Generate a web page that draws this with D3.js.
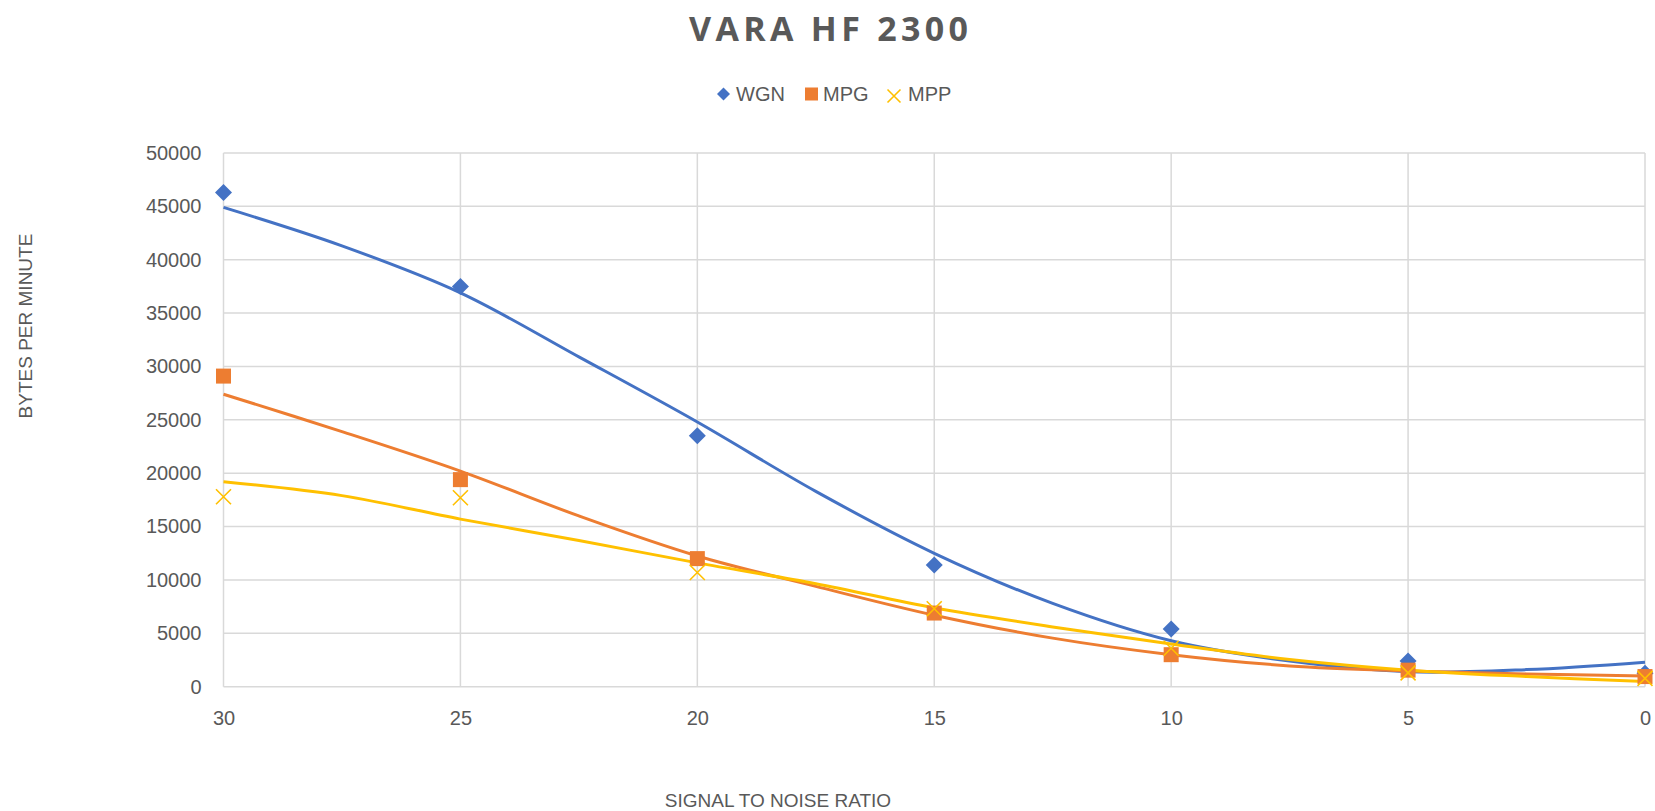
<!DOCTYPE html>
<html>
<head>
<meta charset="utf-8">
<script src="https://cdn.jsdelivr.net/npm/d3@7"></script>
<style>
  body { margin: 0; background: #fff; }
  text { font-family: "Liberation Sans", Arial, sans-serif; fill: #595959; }
</style>
</head>
<body>
<div id="chart"></div>
<script>
const snr = [30, 25, 20, 15, 10, 5, 0];
const wgn = [46300, 37500, 23500, 11400, 5400, 2400, 1250];
const mpg = [29100, 19400, 12000, 6900, 3000, 1550, 950];
const mpp = [17800, 17700, 10700, 7300, 3600, 1300, 780];

// Trendline values at every 2.5 dB
const trendSnr = [30, 27.5, 25, 22.5, 20, 17.5, 15, 12.5, 10, 7.5, 5, 2.5, 0];
const wgnTrend = [44900, 41300, 36900, 30900, 24800, 18300, 12500, 7800, 4300, 2400, 1400, 1600, 2300];
const mpgTrend = [27400, 23900, 20200, 16000, 12250, 9400, 6700, 4550, 3000, 1950, 1480, 1200, 1000];
const mppTrend = [19200, 17900, 15700, 13700, 11600, 9650, 7400, 5600, 4000, 2550, 1550, 950, 480];

const seriesNames = ["WGN", "MPG", "MPP"];
const seriesColors = ["#4472C4", "#ED7D31", "#FFC000"];
const yTicks = [0, 5000, 10000, 15000, 20000, 25000, 30000, 35000, 40000, 45000, 50000];
const xTicks = [30, 25, 20, 15, 10, 5, 0];

const series = [
    {name: seriesNames[0], color: seriesColors[0], values: wgn, trend: wgnTrend, shape: "diamond"},
    {name: seriesNames[1], color: seriesColors[1], values: mpg, trend: mpgTrend, shape: "square"},
    {name: seriesNames[2], color: seriesColors[2], values: mpp, trend: mppTrend, shape: "cross"}
];

const W = 1655, H = 811;
const plot = {left: 223.5, right: 1645, top: 153, bottom: 686.7};

const svg = d3.select("#chart")
    .append("svg")
    .attr("width", W)
    .attr("height", H);

svg.append("rect").attr("width", W).attr("height", H).attr("fill", "#fff");

const x = d3.scaleLinear().domain([30, 0]).range([plot.left, plot.right]);
const y = d3.scaleLinear().domain([0, 50000]).range([plot.bottom, plot.top]);

// Gridlines
svg.append("g")
    .selectAll("line")
    .data(yTicks)
    .join("line")
    .attr("x1", plot.left).attr("x2", plot.right)
    .attr("y1", d => y(d)).attr("y2", d => y(d))
    .attr("stroke", "#D9D9D9").attr("stroke-width", 1.5);

svg.append("g")
    .selectAll("line")
    .data(xTicks)
    .join("line")
    .attr("x1", d => x(d)).attr("x2", d => x(d))
    .attr("y1", plot.top).attr("y2", plot.bottom)
    .attr("stroke", "#D9D9D9").attr("stroke-width", 1.5);

// Axes
const yAxis = svg.append("g")
    .attr("transform", `translate(${plot.left},0)`)
    .call(d3.axisLeft(y).tickValues(yTicks).tickSize(0).tickPadding(22).tickFormat(d => d));
yAxis.select(".domain").remove();
yAxis.selectAll("text")
    .style("font-family", "'Liberation Sans', Arial, sans-serif")
    .style("font-size", "20px")
    .attr("fill", "#595959");

const xAxis = svg.append("g")
    .attr("transform", `translate(0,${plot.bottom})`)
    .call(d3.axisBottom(x).tickValues(xTicks).tickSize(0).tickPadding(24).tickFormat(d => d));
xAxis.select(".domain").remove();
xAxis.selectAll("text")
    .style("font-family", "'Liberation Sans', Arial, sans-serif")
    .style("font-size", "20px")
    .attr("fill", "#595959");

// Trendlines
const line = d3.line()
    .x((d, i) => x(trendSnr[i]))
    .y(d => y(d))
    .curve(d3.curveCatmullRom.alpha(0.5));

series.forEach(s => {
    svg.append("path")
        .datum(s.trend)
        .attr("d", line)
        .attr("fill", "none")
        .attr("stroke", s.color)
        .attr("stroke-width", 3);
});

// Markers
function drawMarker(g, shape, color, w) {
    const r = w / 2;
    if (shape === "diamond") {
        g.append("path")
            .attr("d", `M0,${-r}L${r},0L0,${r}L${-r},0Z`)
            .attr("fill", color);
    } else if (shape === "square") {
        g.append("rect")
            .attr("x", -r).attr("y", -r)
            .attr("width", w).attr("height", w)
            .attr("fill", color);
    } else {
        g.append("path")
            .attr("d", `M${-r},${-r}L${r},${r}M${-r},${r}L${r},${-r}`)
            .attr("stroke", color).attr("stroke-width", 1.6).attr("fill", "none");
    }
}

const markerSize = {diamond: 17, square: 15, cross: 15};

series.forEach(s => {
    const g = svg.append("g");
    snr.forEach((v, i) => {
        const m = g.append("g").attr("transform", `translate(${x(v)},${y(s.values[i])})`);
        drawMarker(m, s.shape, s.color, markerSize[s.shape]);
    });
});

// Title
svg.append("text")
    .attr("x", 828.5)
    .attr("y", 40.5)
    .attr("text-anchor", "middle")
    .attr("textLength", 279)
    .attr("lengthAdjust", "spacing")
    .style("font-family", "'Open Sans', 'DejaVu Sans', sans-serif")
    .style("font-weight", "bold")
    .style("font-size", "34px")
    .text("VARA HF 2300");

// Legend
const legendItems = [
    {x: 723.5, tx: 736, my: 94, w: 13},
    {x: 811.5, tx: 823, my: 94, w: 13},
    {x: 894, tx: 908, my: 96, w: 13}
];
series.forEach((s, i) => {
    const it = legendItems[i];
    const m = svg.append("g").attr("transform", `translate(${it.x},${it.my})`);
    drawMarker(m, s.shape, s.color, it.w);
    svg.append("text")
        .attr("x", it.tx)
        .attr("y", 100.5)
        .style("font-size", "20px")
        .text(s.name);
});

// Axis titles
svg.append("text")
    .attr("transform", `translate(32,326) rotate(-90)`)
    .attr("text-anchor", "middle")
    .style("font-size", "19px")
    .text("BYTES PER MINUTE");

svg.append("text")
    .attr("x", 778)
    .attr("y", 807)
    .attr("text-anchor", "middle")
    .style("font-size", "19px")
    .text("SIGNAL TO NOISE RATIO");
</script>
</body>
</html>
